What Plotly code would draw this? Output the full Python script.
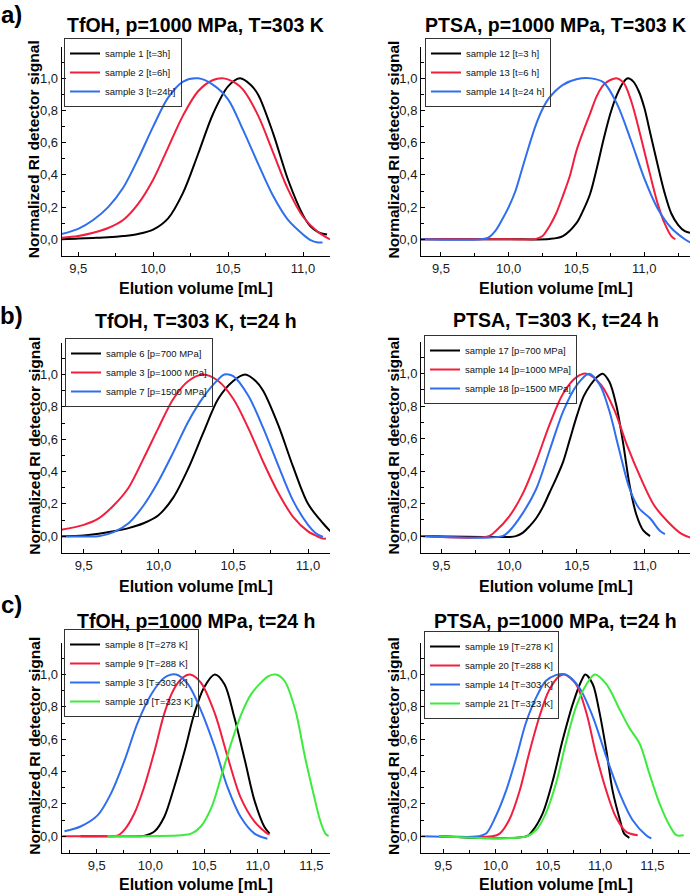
import plotly.graph_objects as go

# ---------------- DATA ----------------
# Panel a) left: TfOH, p=1000 MPa, T=303 K
aL_labels = ["sample 1 [t=3h]", "sample 2 [t=6h]", "sample 3 [t=24h]"]
aL_s1_x = [9.39, 9.5, 9.6, 9.7, 9.8, 9.9, 10.0, 10.1, 10.2, 10.3, 10.4, 10.5, 10.58, 10.65, 10.7, 10.8, 10.9, 11.0, 11.05, 11.1, 11.16]
aL_s1_y = [0.0, 0.005, 0.008, 0.012, 0.02, 0.033, 0.06, 0.13, 0.29, 0.53, 0.78, 0.95, 1.0, 0.96, 0.9, 0.66, 0.37, 0.15, 0.08, 0.045, 0.03]
aL_s2_x = [9.39, 9.5, 9.6, 9.7, 9.8, 9.9, 10.0, 10.1, 10.2, 10.3, 10.4, 10.47, 10.55, 10.6, 10.7, 10.8, 10.9, 11.0, 11.1, 11.15, 11.18]
aL_s2_y = [0.01, 0.02, 0.04, 0.07, 0.12, 0.22, 0.37, 0.57, 0.77, 0.92, 0.99, 1.0, 0.97, 0.93, 0.77, 0.54, 0.31, 0.14, 0.045, 0.015, 0.0]
aL_s3_x = [9.39, 9.5, 9.6, 9.7, 9.8, 9.9, 10.0, 10.1, 10.2, 10.3, 10.4, 10.5, 10.6, 10.7, 10.8, 10.9, 11.0, 11.05, 11.1, 11.13]
aL_s3_y = [0.033, 0.065, 0.12, 0.2, 0.32, 0.5, 0.7, 0.88, 0.98, 1.0, 0.96, 0.87, 0.68, 0.47, 0.27, 0.12, 0.03, -0.005, -0.02, -0.02]

# Panel a) right: PTSA, p=1000 MPa, T=303 K
aR_labels = ["sample 12 [t=3 h]", "sample 13 [t=6 h]", "sample 14 [t=24 h]"]
aR_s12_x = [9.35, 10.0, 10.3, 10.4, 10.5, 10.55, 10.6, 10.65, 10.7, 10.75, 10.8, 10.85, 10.88, 10.92, 10.96, 11.0, 11.05, 11.1, 11.15, 11.2, 11.25, 11.3, 11.34]
aR_s12_y = [0.0, 0.0, 0.002, 0.02, 0.1, 0.18, 0.28, 0.44, 0.62, 0.78, 0.9, 0.98, 1.0, 0.98, 0.92, 0.82, 0.64, 0.46, 0.29, 0.16, 0.09, 0.05, 0.04]
aR_s13_x = [9.35, 10.0, 10.2, 10.25, 10.3, 10.35, 10.4, 10.45, 10.5, 10.55, 10.6, 10.65, 10.7, 10.75, 10.8, 10.85, 10.9, 10.95, 11.0, 11.05, 11.1, 11.15, 11.2, 11.23]
aR_s13_y = [0.0, 0.0, 0.002, 0.02, 0.08, 0.16, 0.27, 0.39, 0.55, 0.67, 0.78, 0.89, 0.96, 0.99, 1.0, 0.97, 0.87, 0.72, 0.55, 0.38, 0.22, 0.1, 0.02, 0.0]
aR_s14_x = [9.35, 9.8, 9.85, 9.9, 9.95, 10.0, 10.05, 10.1, 10.15, 10.2, 10.25, 10.3, 10.4, 10.5, 10.61, 10.7, 10.8, 10.9, 11.0, 11.1, 11.2, 11.3, 11.34]
aR_s14_y = [0.0, 0.0, 0.01, 0.05, 0.12, 0.2, 0.3, 0.44, 0.58, 0.71, 0.81, 0.88, 0.96, 0.995, 1.0, 0.975, 0.84, 0.62, 0.38, 0.19, 0.07, 0.0, -0.02]

# Panel b) left: TfOH, T=303 K, t=24 h
bL_labels = ["sample 6 [p=700 MPa]", "sample 3 [p=1000 MPa]", "sample 7 [p=1500 MPa]"]
bL_s6_x = [9.35, 9.5, 9.6, 9.7, 9.8, 9.9, 10.0, 10.1, 10.2, 10.3, 10.4, 10.5, 10.58, 10.65, 10.7, 10.8, 10.9, 11.0, 11.1, 11.15]
bL_s6_y = [0.0, 0.005, 0.015, 0.03, 0.05, 0.08, 0.13, 0.24, 0.42, 0.64, 0.85, 0.96, 1.0, 0.96, 0.9, 0.69, 0.43, 0.2, 0.08, 0.03]
bL_s3_x = [9.35, 9.5, 9.6, 9.7, 9.8, 9.9, 10.0, 10.1, 10.2, 10.3, 10.4, 10.5, 10.6, 10.7, 10.8, 10.9, 11.0, 11.05, 11.1, 11.12]
bL_s3_y = [0.04, 0.07, 0.11, 0.19, 0.3, 0.48, 0.67, 0.85, 0.96, 1.0, 0.96, 0.85, 0.67, 0.46, 0.27, 0.12, 0.03, 0.005, -0.015, -0.015]
bL_s7_x = [9.35, 9.5, 9.6, 9.7, 9.8, 9.9, 10.0, 10.1, 10.2, 10.3, 10.4, 10.44, 10.5, 10.6, 10.7, 10.8, 10.9, 11.0, 11.05, 11.1]
bL_s7_y = [0.0, -0.002, 0.0, 0.025, 0.08, 0.19, 0.34, 0.52, 0.71, 0.86, 0.97, 1.0, 0.99, 0.87, 0.67, 0.44, 0.22, 0.07, 0.02, -0.005]

# Panel b) right: PTSA, T=303 K, t=24 h
bR_labels = ["sample 17 [p=700 MPa]", "sample 14 [p=1000 MPa]", "sample 18 [p=1500 MPa]"]
bR_s17_x = [9.35, 10.0, 10.05, 10.1, 10.15, 10.2, 10.25, 10.3, 10.35, 10.4, 10.45, 10.5, 10.55, 10.6, 10.65, 10.69, 10.74, 10.79, 10.84, 10.89, 10.94, 10.99, 11.04]
bR_s17_y = [0.0, -0.005, 0.0, 0.02, 0.06, 0.11, 0.18, 0.27, 0.36, 0.46, 0.6, 0.74, 0.86, 0.93, 0.98, 1.0, 0.95, 0.81, 0.58, 0.31, 0.13, 0.035, 0.0]
bR_s14_x = [9.35, 9.85, 9.9, 10.0, 10.1, 10.2, 10.3, 10.4, 10.5, 10.57, 10.68, 10.78, 10.87, 10.97, 11.07, 11.17, 11.27, 11.34]
bR_s14_y = [0.0, 0.0, 0.03, 0.12, 0.26, 0.46, 0.69, 0.88, 0.98, 1.0, 0.93, 0.77, 0.56, 0.36, 0.19, 0.09, 0.015, -0.01]
bR_s18_x = [9.35, 9.95, 10.0, 10.1, 10.2, 10.3, 10.4, 10.5, 10.59, 10.67, 10.74, 10.81, 10.89, 10.96, 11.04, 11.11, 11.15]
bR_s18_y = [0.0, 0.0, 0.03, 0.14, 0.29, 0.53, 0.77, 0.93, 1.0, 0.93, 0.77, 0.54, 0.29, 0.17, 0.11, 0.035, 0.012]

# Panel c) left: TfOH, p=1000 MPa, t=24 h
cL_labels = ["sample 8 [T=278 K]", "sample 9 [T=288 K]", "sample 3 [T=303 K]", "sample 10 [T=323 K]"]
cL_s8_x = [9.35, 9.9, 9.95, 10.04, 10.13, 10.22, 10.32, 10.41, 10.5, 10.6, 10.69, 10.78, 10.88, 10.97, 11.06, 11.11]
cL_s8_y = [0.0, 0.0, 0.003, 0.03, 0.12, 0.3, 0.53, 0.76, 0.92, 1.0, 0.94, 0.74, 0.47, 0.22, 0.06, 0.016]
cL_s9_x = [9.18, 9.6, 9.7, 9.76, 9.85, 9.94, 10.04, 10.13, 10.22, 10.3, 10.37, 10.47, 10.6, 10.72, 10.84, 10.97, 11.09, 11.11]
cL_s9_y = [0.0, 0.0, 0.005, 0.04, 0.14, 0.3, 0.53, 0.76, 0.91, 0.98, 1.0, 0.95, 0.76, 0.49, 0.24, 0.09, 0.016, 0.012]
cL_s3_x = [9.2, 9.35, 9.51, 9.63, 9.76, 9.88, 10.01, 10.13, 10.24, 10.35, 10.47, 10.6, 10.72, 10.84, 10.97, 11.09]
cL_s3_y = [0.03, 0.06, 0.13, 0.26, 0.47, 0.7, 0.88, 0.98, 1.0, 0.94, 0.78, 0.55, 0.3, 0.12, 0.016, -0.016]
cL_s10_x = [9.6, 10.29, 10.38, 10.47, 10.57, 10.66, 10.75, 10.85, 10.94, 11.03, 11.1, 11.17, 11.25, 11.35, 11.44, 11.52, 11.58, 11.63, 11.66]
cL_s10_y = [0.0, 0.006, 0.016, 0.06, 0.18, 0.37, 0.57, 0.76, 0.88, 0.95, 0.99, 1.0, 0.96, 0.78, 0.49, 0.26, 0.1, 0.016, 0.0]

# Panel c) right: PTSA, p=1000 MPa, t=24 h
cR_labels = ["sample 19 [T=278 K]", "sample 20 [T=288 K]", "sample 14 [T=303 K]", "sample 21 [T=323 K]"]
cR_s19_x = [9.46, 10.3, 10.35, 10.45, 10.55, 10.64, 10.74, 10.82, 10.86, 10.93, 10.99, 11.06, 11.12, 11.19, 11.23, 11.28]
cR_s19_y = [0.0, 0.0, 0.03, 0.14, 0.35, 0.59, 0.82, 0.96, 1.0, 0.94, 0.78, 0.53, 0.28, 0.1, 0.016, -0.01]
cR_s20_x = [9.46, 9.97, 10.04, 10.13, 10.23, 10.32, 10.42, 10.51, 10.61, 10.66, 10.77, 10.87, 10.96, 11.06, 11.15, 11.25, 11.36]
cR_s20_y = [0.0, 0.0, 0.016, 0.1, 0.28, 0.51, 0.74, 0.9, 0.99, 1.0, 0.94, 0.76, 0.51, 0.28, 0.12, 0.027, 0.006]
cR_s14_x = [9.29, 9.84, 9.91, 10.0, 10.1, 10.2, 10.29, 10.39, 10.48, 10.57, 10.67, 10.8, 10.93, 11.06, 11.19, 11.31, 11.44, 11.49]
cR_s14_y = [0.0, 0.0, 0.016, 0.12, 0.28, 0.49, 0.7, 0.86, 0.96, 0.995, 1.0, 0.92, 0.74, 0.49, 0.26, 0.1, 0.006, -0.014]
cR_s21_x = [9.46, 10.3, 10.39, 10.48, 10.58, 10.67, 10.77, 10.87, 10.95, 11.06, 11.19, 11.28, 11.38, 11.47, 11.57, 11.67, 11.73, 11.8]
cR_s21_y = [0.0, 0.0, 0.04, 0.14, 0.33, 0.57, 0.8, 0.94, 1.0, 0.94, 0.78, 0.67, 0.57, 0.39, 0.2, 0.06, 0.006, 0.006]

titles = ["TfOH, p=1000 MPa, T=303 K", "PTSA, p=1000 MPa, T=303 K",
          "TfOH, T=303 K, t=24 h", "PTSA, T=303 K, t=24 h",
          "TfOH, p=1000 MPa, t=24 h", "PTSA, p=1000 MPa, t=24 h"]
row_labels = ["a)", "b)", "c)"]
x_title = "Elution volume [mL]"
y_title = "Normalized RI detector signal"
y_ticks = [0.0, 0.2, 0.4, 0.6, 0.8, 1.0]
x_ticks_ab = [9.5, 10.0, 10.5, 11.0]
x_ticks_c = [9.5, 10.0, 10.5, 11.0, 11.5]

# ---------------- STYLE / LAYOUT ----------------
BLACK, RED, BLUE, GREEN = "#000000", "#F21E3E", "#2F6EEE", "#3DEB3D"
FONT = "Liberation Sans, Arial, sans-serif"
W, H = 692, 896

panels = [
    dict(series=[(aL_s1_x, aL_s1_y, BLACK), (aL_s2_x, aL_s2_y, RED), (aL_s3_x, aL_s3_y, BLUE)],
         labels=aL_labels, xr=[9.39, 11.18], box=(61.7, 330, 47, 256), leg=(64, 38), ticks=x_ticks_ab),
    dict(series=[(aR_s12_x, aR_s12_y, BLACK), (aR_s13_x, aR_s13_y, RED), (aR_s14_x, aR_s14_y, BLUE)],
         labels=aR_labels, xr=[9.353, 11.338], box=(421, 690, 47, 256), leg=(425, 38), ticks=x_ticks_ab),
    dict(series=[(bL_s6_x, bL_s6_y, BLACK), (bL_s3_x, bL_s3_y, RED), (bL_s7_x, bL_s7_y, BLUE)],
         labels=bL_labels, xr=[9.353, 11.147], box=(61.7, 330, 343, 553), leg=(65, 338), ticks=x_ticks_ab),
    dict(series=[(bR_s17_x, bR_s17_y, BLACK), (bR_s14_x, bR_s14_y, RED), (bR_s18_x, bR_s18_y, BLUE)],
         labels=bR_labels, xr=[9.35, 11.335], box=(421, 690, 342, 553), leg=(424, 335), ticks=x_ticks_ab),
    dict(series=[(cL_s8_x, cL_s8_y, BLACK), (cL_s9_x, cL_s9_y, RED), (cL_s3_x, cL_s3_y, BLUE), (cL_s10_x, cL_s10_y, GREEN)],
         labels=cL_labels, xr=[9.174, 11.673], box=(61.7, 330, 643, 853), leg=(64, 629), ticks=x_ticks_c),
    dict(series=[(cR_s19_x, cR_s19_y, BLACK), (cR_s20_x, cR_s20_y, RED), (cR_s14_x, cR_s14_y, BLUE), (cR_s21_x, cR_s21_y, GREEN)],
         labels=cR_labels, xr=[9.287, 11.86], box=(421, 690, 643, 853), leg=(424, 631), ticks=x_ticks_c),
]

def fx(p):
    return p / W

def fy(p):
    return 1 - p / H

fig = go.Figure()
layout = dict(
    width=W, height=H, margin=dict(l=0, r=0, t=0, b=0),
    paper_bgcolor="white", plot_bgcolor="white",
    font=dict(family=FONT, color="black"),
    separators=", ",
    annotations=[],
)

for i, p in enumerate(panels):
    n = i + 1
    xa = "x" if n == 1 else f"x{n}"
    ya = "y" if n == 1 else f"y{n}"
    legname = "legend" if n == 1 else f"legend{n}"
    for (xs, ys, col), lab in zip(p["series"], p["labels"]):
        fig.add_trace(go.Scatter(x=xs, y=ys, mode="lines", name=lab,
                                 line=dict(color=col, width=2, shape="spline", smoothing=0.9),
                                 xaxis=xa, yaxis=ya, legend=legname, showlegend=True))
    x0, x1, y0, y1 = p["box"]
    axis_common = dict(showline=True, linecolor="black", linewidth=1, showgrid=False, zeroline=False,
                       ticks="inside", ticklen=4, tickwidth=1, tickcolor="black",
                       tickfont=dict(family=FONT, size=13, color="#1a1a1a"), mirror=False)
    layout["xaxis" if n == 1 else f"xaxis{n}"] = dict(
        axis_common, domain=[fx(x0), fx(x1)], range=p["xr"], anchor=ya,
        tickvals=p["ticks"], tickformat=".1f",
        minor=dict(ticks="inside", ticklen=3, tickcolor="black", dtick=0.25, tick0=9.25))
    layout["yaxis" if n == 1 else f"yaxis{n}"] = dict(
        axis_common, domain=[fy(y1), fy(y0)], range=[-0.104, 1.195], anchor=xa,
        tickvals=y_ticks, tickformat=".1f",
        minor=dict(ticks="inside", ticklen=3, tickcolor="black", dtick=0.1, tick0=0))
    lx, ly = p["leg"]
    layout[legname] = dict(x=fx(lx), y=fy(ly), xanchor="left", yanchor="top",
                           xref="paper", yref="paper",
                           bgcolor="rgba(255,255,255,0)", bordercolor="#333333", borderwidth=1,
                           font=dict(family=FONT, size=9.5, color="#111111"),
                           itemwidth=30, tracegroupgap=0)
    cx = (x0 + x1) / 2
    layout["annotations"].append(dict(text=f"<b>{titles[i]}</b>", x=fx(cx), y=fy(y0 - 22),
                                      xref="paper", yref="paper", showarrow=False,
                                      font=dict(family=FONT, size=19.5, color="black"),
                                      xanchor="center", yanchor="middle"))
    layout["annotations"].append(dict(text=f"<b>{x_title}</b>", x=fx(cx), y=fy(min(y1 + 33, 884)),
                                      xref="paper", yref="paper", showarrow=False,
                                      font=dict(family=FONT, size=16, color="black"),
                                      xanchor="center", yanchor="middle"))
    layout["annotations"].append(dict(text=f"<b>{y_title}</b>", x=fx(x0 - 28), y=fy((y0 + y1) / 2 - 2),
                                      xref="paper", yref="paper", showarrow=False, textangle=-90,
                                      font=dict(family=FONT, size=15.5, color="black"),
                                      xanchor="center", yanchor="middle"))

for lab, yp in zip(row_labels, [15, 315, 604]):
    layout["annotations"].append(dict(text=f"<b>{lab}</b>", x=fx(12), y=fy(yp), xref="paper", yref="paper",
                                      showarrow=False, font=dict(family=FONT, size=24, color="black"),
                                      xanchor="center", yanchor="middle"))

fig.update_layout(**layout)
fig.write_html("out.html", config={"displayModeBar": False},
               post_script="document.body.style.margin='0';document.body.style.overflow='hidden';")
